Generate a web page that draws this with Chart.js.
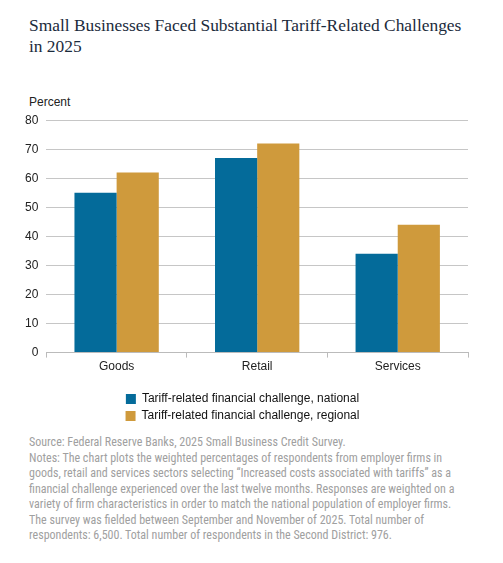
<!DOCTYPE html>
<html>
<head>
<meta charset="utf-8">
<script src="https://cdn.jsdelivr.net/npm/chart.js@4.4.1/dist/chart.umd.min.js"></script>
<style>
  body { margin: 0; background: #fff; width: 503px; height: 563px; position: relative; overflow: hidden; }
  .title { position: absolute; left: 29px; top: 15px; font-family: "Liberation Serif", "DejaVu Serif", serif; font-size: 17.4px; line-height: 21px; color: #1b2b3c; white-space: nowrap; }
  .unit { position: absolute; left: 29px; top: 95px; font-family: "Liberation Sans", Arial, sans-serif; font-size: 12px; color: #222; }
  .box { position: absolute; left: 17px; top: 105px; width: 453px; height: 327px; }
  .notes { position: absolute; left: 29px; top: 435px; font-family: "Liberation Sans Narrow", "Roboto Condensed", Roboto, sans-serif; font-size: 12px; line-height: 15.5px; color: #a0a0a0; white-space: nowrap; }
</style>
</head>
<body>
<div class="title">Small Businesses Faced Substantial Tariff-Related Challenges<br>in 2025</div>
<div class="unit">Percent</div>
<div class="box"><canvas id="chart"></canvas></div>
<div class="notes">
Source: Federal Reserve Banks, 2025 Small Business Credit Survey.<br>
Notes: The chart plots the weighted percentages of respondents from employer firms in<br>
goods, retail and services sectors selecting “Increased costs associated with tariffs” as a<br>
financial challenge experienced over the last twelve months. Responses are weighted on a<br>
variety of firm characteristics in order to match the national population of employer firms.<br>
The survey was fielded between September and November of 2025. Total number of<br>
respondents: 6,500. Total number of respondents in the Second District: 976.
</div>
<script>
const sectors = ['Goods', 'Retail', 'Services'];
const nationalShare = [55, 67, 34];
const regionalShare = [62, 72, 44];
const yTicks = [0, 10, 20, 30, 40, 50, 60, 70, 80];

const ctx = document.getElementById('chart').getContext('2d');
new Chart(ctx, {
  type: 'bar',
  data: {
    labels: sectors,
    datasets: [
      { label: 'Tariff-related financial challenge, national', data: nationalShare, backgroundColor: '#046b9a' },
      { label: 'Tariff-related financial challenge, regional', data: regionalShare, backgroundColor: '#cf9a3c' }
    ]
  },
  options: {
    responsive: true,
    maintainAspectRatio: false,
    animation: false,
    categoryPercentage: 0.6,
    barPercentage: 1.0,
    layout: { padding: { left: 0, right: 2, top: 6, bottom: 0 } },
    plugins: {
      legend: {
        position: 'bottom',
        labels: {
          boxWidth: 10, boxHeight: 10, padding: 5,
          color: '#111',
          font: { family: '"Liberation Sans", Arial, sans-serif', size: 12 }
        }
      },
      tooltip: { enabled: false }
    },
    scales: {
      x: {
        afterFit: axis => { axis.height += 12; }, // push legend down a bit
        grid: { offset: true, drawOnChartArea: false, drawTicks: true, tickLength: 5, color: '#bbb' },
        border: { color: '#bbb' },
        ticks: { color: '#222', font: { family: '"Liberation Sans", Arial, sans-serif', size: 12 }, padding: 2 }
      },
      y: {
        min: 0, max: 80,
        afterBuildTicks: axis => { axis.ticks = yTicks.map(v => ({ value: v })); },
        grid: { color: '#c6c6c6', drawTicks: false },
        border: { display: false },
        ticks: { color: '#222', padding: 8, font: { family: '"Liberation Sans", Arial, sans-serif', size: 12 } }
      }
    }
  }
});
</script>
</body>
</html>
